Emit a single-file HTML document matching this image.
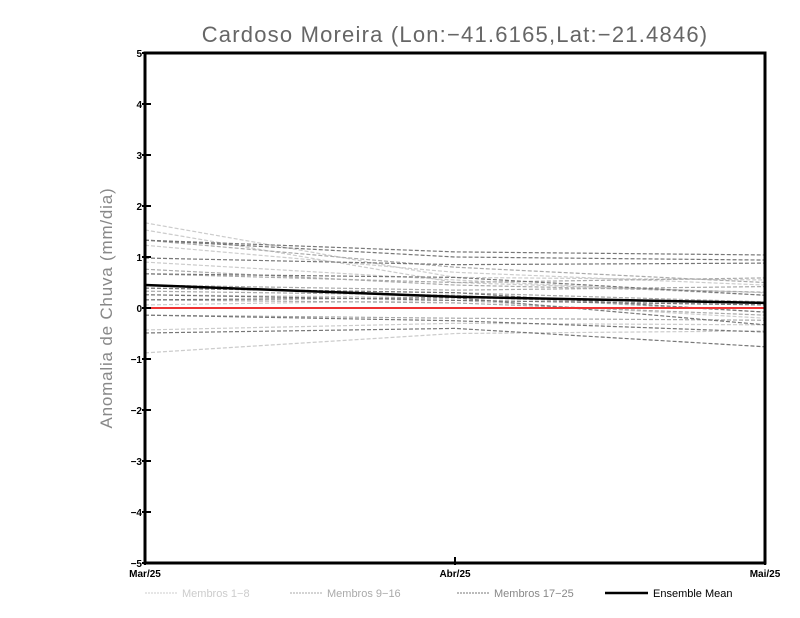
<!DOCTYPE html>
<html><head><meta charset="utf-8"><style>
body{margin:0;background:#fff;width:800px;height:618px;overflow:hidden}
svg{display:block;font-family:"Liberation Sans",sans-serif}
</style></head><body>
<svg id="chart" width="800" height="618" viewBox="0 0 800 618" xmlns="http://www.w3.org/2000/svg">
<text x="455" y="42" text-anchor="middle" font-size="22" fill="#666" letter-spacing="1.2">Cardoso Moreira (Lon:−41.6165,Lat:−21.4846)</text>
<text transform="translate(112,308) rotate(-90)" text-anchor="middle" font-size="17" fill="#888" letter-spacing="0.8">Anomalia de Chuva (mm/dia)</text>
<g id="marks"></g>
<g id="axes"></g>
<g id="legend">
<line x1="145" y1="593" x2="178" y2="593" stroke="#ccc" stroke-dasharray="2,1"/>
<text x="182" y="597" font-size="11" fill="#ccc">Membros 1−8</text>
<line x1="290" y1="593" x2="323" y2="593" stroke="#aaa" stroke-dasharray="2,1"/>
<text x="327" y="597" font-size="11" fill="#aaa">Membros 9−16</text>
<line x1="457" y1="593" x2="490" y2="593" stroke="#777" stroke-dasharray="2,1"/>
<text x="494" y="597" font-size="11" fill="#888">Membros 17−25</text>
<line x1="605" y1="593" x2="648" y2="593" stroke="#000" stroke-width="2.5"/>
<text x="653" y="597" font-size="11" fill="#000">Ensemble Mean</text>
</g>
</svg>
<script>
const categories=["Mar/25","Abr/25","Mai/25"];
const yTicks=[-5,-4,-3,-2,-1,0,1,2,3,4,5];
const members1to8=[[1.67,0.6,0.55],[1.53,0.5,0.3],[1.23,0.7,0.45],[0.9,0.55,0.25],[0.26,0.2,0.06],[0.06,0.15,-0.2],[-0.43,-0.3,-0.33],[-0.88,-0.5,-0.45]];
const members9to16=[[1.33,0.8,0.5],[0.76,0.45,0.31],[0.39,0.3,0.12],[0.33,0.25,-0.08],[0.16,0.1,-0.14],[-0.14,-0.2,-0.24],[0.45,0.35,0.42],[0.67,0.5,0.59]];
const members17to25=[[1.33,1.1,1.04],[1.33,1.0,0.94],[0.98,0.85,0.88],[0.67,0.6,0.25],[0.39,0.3,-0.08],[0.26,0.15,0.06],[-0.14,-0.25,-0.47],[-0.49,-0.4,-0.76],[0.16,0.2,-0.33]];
const ensembleMean=[0.45,0.22,0.1];
const observed=[0,0,0];

const L=145,R=765,T=53,B=563;
const xs=i=>L+(R-L)*i/(categories.length-1);
const ys=v=>B-(v+5)/10*(B-T);
const NS="http://www.w3.org/2000/svg";
const marks=document.getElementById('marks'),axes=document.getElementById('axes');
function mk(tag,attrs,parent){const e=document.createElementNS(NS,tag);for(const k in attrs)e.setAttribute(k,attrs[k]);parent.appendChild(e);return e;}
function line(vals,stroke,w,dash,name){
  const e=mk('polyline',{points:vals.map((v,i)=>xs(i)+','+ys(v)).join(' '),fill:'none',stroke:stroke,'stroke-width':w},marks);
  if(dash)e.setAttribute('stroke-dasharray',dash);
  
  
}
members1to8.forEach((m,i)=>line(m,'#ccc',1.2,'4,2','member-'+(i+1)+'-line'));
members9to16.forEach((m,i)=>line(m,'#aaa',1.2,'4,2','member-'+(i+9)+'-line'));
members17to25.forEach((m,i)=>line(m,'#777',1.2,'4,2','member-'+(i+17)+'-line'));
line(observed,'#e33',2,null,'zero-reference-line');
line(ensembleMean,'#000',2.5,null,'ensemble-mean-line');
const fr=mk('rect',{x:L,y:T,width:R-L,height:B-T,fill:'none',stroke:'#000','stroke-width':3},axes);


yTicks.forEach(t=>{
  mk('line',{x1:L-3,x2:L+6,y1:ys(t),y2:ys(t),stroke:'#000','stroke-width':2},axes);
  const tx=mk('text',{x:L-3,y:ys(t)+4,'text-anchor':'end','font-size':10,'font-weight':'bold'},axes);
  tx.textContent=(t<0?'−'+(-t):t);
  
  
});
categories.forEach((c,i)=>{
  mk('line',{x1:xs(i),x2:xs(i),y1:B-6,y2:B+2,stroke:'#000','stroke-width':2},axes);
  const tx=mk('text',{x:xs(i),y:B+14,'text-anchor':'middle','font-size':10,'font-weight':'bold'},axes);
  tx.textContent=c;
  
  
});
</script>
</body></html>
